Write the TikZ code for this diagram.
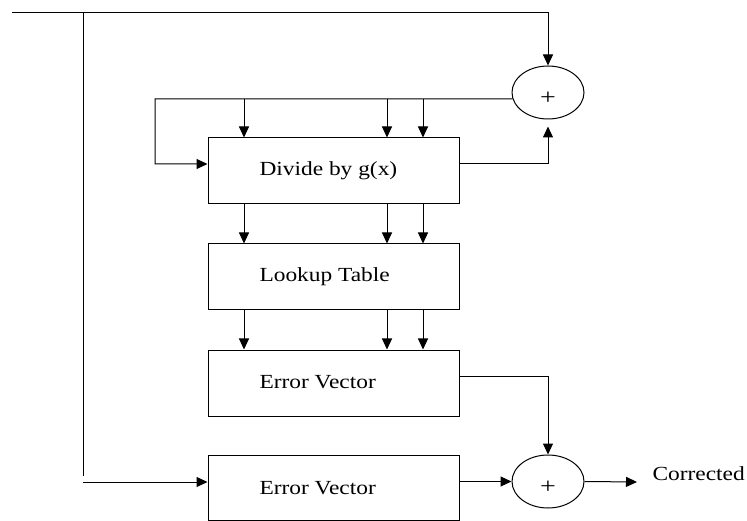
\documentclass[tikz,border=0pt]{standalone}
\usepackage{fontspec}
\usepackage{graphicx}
\setmainfont{Liberation Serif}
\newcommand\widetext[1]{\scalebox{1.17}[1]{#1}}
\newcommand\plussign{\scalebox{1.4}[1.1]{+}}
\usetikzlibrary{arrows.meta,shapes.geometric}
\begin{document}
\begin{tikzpicture}[x=1pt,y=-1pt,
  line width=1pt,
  arr/.style={-{Triangle[length=11pt,width=10pt]}},
  blk/.style={draw, rectangle, minimum width=251pt, minimum height=66pt, inner sep=0pt},
  sumnode/.style={draw, ellipse, minimum width=72pt, minimum height=53pt, inner sep=0pt},
  lbl/.style={font=\fontsize{20}{24}\selectfont, inner sep=0pt, anchor=base west}]
\useasboundingbox (0,0) rectangle (747,521);

% processing blocks
\node[blk] (div) at (333.5,171) {};
\node[blk] (lut) at (333.5,277) {};
\node[blk] (err) at (333.5,383) {};
\node[blk, minimum height=65pt] (err2) at (333.5,487.5) {};

% adders
\node[sumnode] (sum1) at (548,92.5) {};
\node[sumnode] (sum2) at (548,481.5) {};
\node[lbl, anchor=center] (p1) at (548,98.7) {\plussign};
\node[lbl, anchor=center] (p2) at (548,487) {\plussign};

% block labels
\node[lbl] (divt) at (259,176) {\widetext{Divide by g(x)}};
\node[lbl] (lutt) at (259,282) {\widetext{Lookup Table}};
\node[lbl] (errt) at (259,388) {\widetext{Error Vector}};
\node[lbl] (err2t) at (259,494) {\widetext{Error Vector}};
\node[lbl] (outt) at (652,480) {\widetext{Corrected}};

% routing points
\coordinate (in) at (12,13);
\coordinate (tap) at (83,13);
\coordinate (tapend) at (83,476);
\coordinate (in2) at (83,482);
\coordinate (fbL) at (155,99);
\coordinate (outEnd) at (637,482);
\coordinate (r1) at (0,164);
\coordinate (r3) at (0,376);
\coordinate (c1) at (244,0);
\coordinate (c2) at (387,0);
\coordinate (c3) at (423,0);

% received word into the first adder and the delay path
\draw[arr] (in) -| (sum1.north);
\draw (tap) -- (tapend);
\draw[arr] (in2) -- (in2 -| err2.west);

% feedback loop around the divider
\draw[arr] (sum1.190.5) -- (fbL) |- (div.west |- r1);
\foreach \c in {c1,c2,c3}
  \draw[arr] (\c |- fbL) -- (\c |- div.north);
\draw[arr] (div.east |- r1) -| ([yshift=-7pt]sum1.south);

% syndrome bits down the chain
\foreach \c in {c1,c2,c3}{
  \draw[arr] (\c |- div.south) -- (\c |- lut.north);
  \draw[arr] (\c |- lut.south) -- (\c |- err.north);
}

% correction
\draw[arr] (err.east |- r3) -| (sum2.north);
\draw[arr] (sum2 -| err2.east) -- (sum2.west);
\draw[arr] (sum2.east) -- (outEnd);
\end{tikzpicture}
\end{document}
